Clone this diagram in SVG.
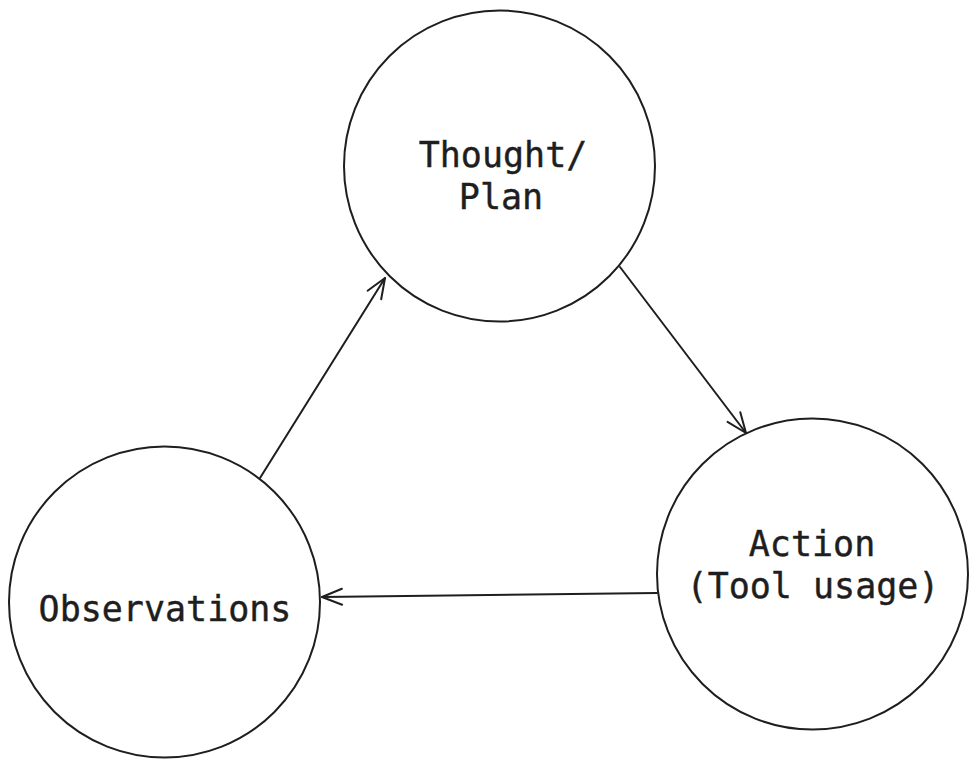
<svg xmlns="http://www.w3.org/2000/svg" width="977" height="768" viewBox="0 0 977 768">
<style>
.n{fill:#fff;stroke:#1e1e1e;stroke-width:2}
.t{font-family:"DejaVu Sans Mono","Liberation Mono",monospace;font-size:35px;fill:#1e1e1e;text-anchor:middle;stroke:#1e1e1e;stroke-width:0.4}
.c{fill:none;stroke:#1e1e1e;stroke-width:2;stroke-linecap:round}
</style>
<defs>
<marker id="a" viewBox="0 0 24 20" refX="22" refY="10" markerWidth="24" markerHeight="20" markerUnits="userSpaceOnUse" orient="auto">
<path d="M2 2 L22 10 L2 18" fill="none" stroke="#1e1e1e" stroke-width="2" stroke-linecap="round" stroke-linejoin="round"/>
</marker>
</defs>
<rect width="977" height="768" fill="#fff"/>
<g id="thought"><circle class="n" cx="499.5" cy="166" r="155.5"/><text class="t" x="503" y="167">Thought/</text><text class="t" x="501" y="209">Plan</text></g>
<g id="action"><circle class="n" cx="812.5" cy="574" r="155.5"/><text class="t" x="812" y="556">Action</text><text class="t" x="813" y="598">(Tool usage)</text></g>
<g id="observations"><circle class="n" cx="164.5" cy="602" r="155.5"/><text class="t" x="165" y="621">Observations</text></g>
<g id="connectors">
<path class="c" d="M260 478 L385 278" marker-end="url(#a)"/>
<path class="c" d="M620 267 L746 433" marker-end="url(#a)"/>
<path class="c" d="M657 593 L322 597" marker-end="url(#a)"/>
</g>
</svg>
